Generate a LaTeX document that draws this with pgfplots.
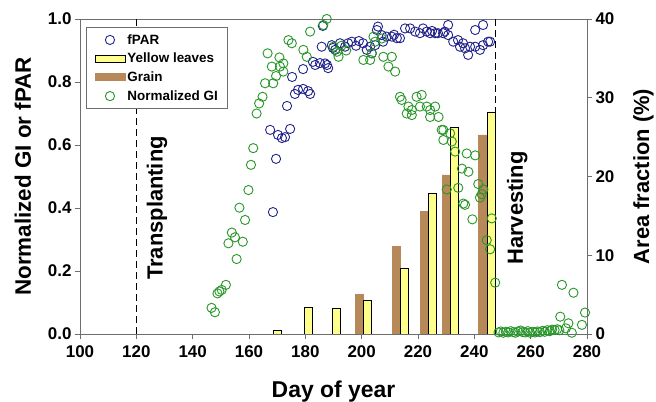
\documentclass[border=0pt]{standalone}
\usepackage{pgfplots}
\pgfplotsset{compat=1.18}
\usepackage{fontspec}
\setmainfont{Liberation Sans}
\definecolor{fparblue}{RGB}{35,35,140}
\definecolor{gigreen}{RGB}{40,150,40}
\definecolor{yellowbar}{RGB}{255,255,140}
\definecolor{grainbrown}{RGB}{184,137,88}
\definecolor{axisgray}{RGB}{110,110,110}
\pgfplotsset{
  every tick label/.append style={font=\fontsize{17}{17}\selectfont\bfseries, text=black},
  /pgf/number format/assume math mode=true,
}
\begin{document}
\begin{tikzpicture}
% ---------- right axis: bars ----------
\begin{axis}[
  scale only axis, width=507bp, height=315bp,
  xmin=100, xmax=280, ymin=0, ymax=40,
  axis y line*=right, axis x line=none,
  ytick={0,10,20,30,40},
  tick align=outside, major tick length=5bp,
  axis line style={axisgray, line width=0.9bp},
  tick style={axisgray, line width=0.9bp},
  ylabel={Area fraction (\%)},
  ylabel style={font=\fontsize{22}{22}\selectfont\bfseries, yshift=-12bp},
]
\addplot[ybar, bar width=2.85, bar shift=0pt, fill=grainbrown, draw=grainbrown, line width=0.5bp]
  coordinates {(199.3,5.0) (212.2,11.1) (222.2,15.6) (230.0,20.2) (242.9,25.3)};
\addplot[ybar, bar width=2.85, bar shift=0pt, fill=yellowbar, draw=black, line width=0.9bp]
  coordinates {(170.0,0.4) (181.1,3.35) (191.1,3.2) (201.9,4.2) (215.1,8.3) (225.0,17.9) (233.0,26.2) (246.0,28.1)};
\end{axis}
% ---------- left axis: fPAR and GI ----------
\begin{axis}[
  scale only axis, width=507bp, height=315bp,
  xmin=100, xmax=280, ymin=0, ymax=1,
  xtick={100,120,...,280}, ytick={0,0.2,0.4,0.6,0.8,1.0},
  xtick pos=bottom, ytick pos=left,
  tick align=outside, major tick length=5bp,
  axis line style={axisgray, line width=0.9bp},
  tick style={axisgray, line width=0.9bp},
  yticklabel style={/pgf/number format/fixed, /pgf/number format/fixed zerofill, /pgf/number format/precision=1},
  xticklabel style={yshift=-3bp, /pgf/number format/1000 sep={}},
  xlabel={Day of year},
  ylabel={Normalized GI or fPAR},
  xlabel style={font=\fontsize{23}{23}\selectfont\bfseries, yshift=-17bp},
  ylabel style={font=\fontsize{22.5}{22.5}\selectfont\bfseries, yshift=10bp},
  legend style={at={(0.012,0.975)}, anchor=north west, draw=axisgray, line width=0.9bp,
    font=\fontsize{13.5}{13.5}\selectfont\bfseries, row sep=3.5bp, inner xsep=8bp, inner ysep=5bp},
  legend cell align=left,
]
\coordinate (sw) at (rel axis cs:0,0);
\coordinate (ne) at (rel axis cs:1,1);
\addplot[black, line width=1.3bp, dash pattern=on 7bp off 4bp, forget plot] coordinates {(120,0) (120,1)};
\addplot[black, line width=1.3bp, dash pattern=on 7bp off 4bp, forget plot] coordinates {(247.5,0) (247.5,1)};

\addplot[only marks, mark=o, mark size=4.6bp, color=fparblue, line width=0.9bp,
  legend image code/.code={\draw[fparblue, line width=0.9bp] (15bp,0bp) circle (4.6bp);}]
  coordinates {
(168.5,0.387) (169.6,0.556) (167.5,0.648) (170.3,0.632) (171.7,0.622) (172.8,0.625)
(174.6,0.651) (173.5,0.724) (176.3,0.762) (177.4,0.775) (179.2,0.778) (181.0,0.771)
(181.7,0.762) (175.3,0.816) (179.2,0.841) (182.7,0.864) (183.5,0.854) (185.2,0.860)
(187.7,0.854) (188.1,0.844) (185.8,0.912) (186.2,0.978) (189.8,0.908) (187.0,0.859)
(189.4,0.917) (190.6,0.902) (192.3,0.923) (194.1,0.912) (195.2,0.923) (196.5,0.928)
(198.0,0.915) (199.0,0.930) (200.5,0.923) (201.8,0.902) (203.0,0.912) (203.6,0.891)
(204.8,0.917) (205.4,0.965) (205.8,0.976) (207.1,0.949) (207.6,0.928) (208.9,0.944)
(210.7,0.944) (211.5,0.950) (212.5,0.939) (213.6,0.939) (215.4,0.970) (217.2,0.970)
(219.0,0.960) (220.7,0.955) (221.8,0.970) (223.1,0.960) (224.3,0.955) (225.0,0.962)
(226.1,0.955) (227.1,0.955) (228.9,0.955) (229.5,0.960) (230.7,0.949) (230.7,0.981)
(232.5,0.928) (234.2,0.933) (234.9,0.912) (236.0,0.923) (236.7,0.907) (237.8,0.886)
(238.5,0.912) (240.3,0.912) (242.0,0.902) (243.1,0.917) (244.9,0.928) (245.6,0.928)
(240.3,0.965) (243.1,0.981)
  };
\addlegendentry{fPAR}
\addlegendimage{legend image code/.code={\draw[fill=yellowbar, draw=black, line width=0.9bp] (0bp,-3.5bp) rectangle (30bp,3.5bp);}}
\addlegendentry{Yellow leaves}
\addlegendimage{legend image code/.code={\fill[grainbrown] (0bp,-3.5bp) rectangle (30bp,3.5bp);}}
\addlegendentry{Grain}

\addplot[only marks, mark=o, mark size=4.6bp, color=gigreen, line width=0.9bp,
  legend image code/.code={\draw[gigreen, line width=0.9bp] (15bp,0bp) circle (4.6bp);}]
  coordinates {
(146.7,0.083) (147.9,0.069) (148.8,0.129) (150.3,0.140) (151.8,0.156) (149.5,0.135)
(155.6,0.238) (152.7,0.288) (153.9,0.322) (155.0,0.307) (157.8,0.293) (158.6,0.362)
(156.6,0.401) (159.8,0.457) (160.7,0.537) (161.5,0.590) (162.7,0.700) (163.6,0.732)
(164.8,0.753) (165.7,0.796) (168.6,0.796) (169.6,0.819) (168.1,0.849) (172.2,0.833)
(171.0,0.849) (166.6,0.891) (170.8,0.878) (172.2,0.859) (174.0,0.933) (175.2,0.923)
(179.3,0.902) (180.5,0.880) (181.7,0.960) (187.6,1.000) (186.4,0.981) (190.0,0.912)
(191.2,0.896) (191.8,0.880) (192.8,0.915) (194.5,0.900) (204.2,0.944) (204.8,0.928)
(200.6,0.870) (203.0,0.870) (203.6,0.891) (207.1,0.938) (207.7,0.880) (210.7,0.880)
(209.5,0.849) (211.9,0.833) (213.6,0.753) (214.2,0.743) (216.6,0.722) (219.5,0.753)
(221.3,0.759) (217.8,0.711) (220.7,0.722) (223.1,0.722) (224.3,0.711) (226.1,0.722)
(216.0,0.700) (217.8,0.695) (224.3,0.689) (227.3,0.689) (229.0,0.648) (228.4,0.648)
(229.0,0.616) (231.4,0.637) (232.0,0.611) (233.2,0.579) (235.6,0.525) (237.9,0.515)
(237.3,0.573) (240.3,0.567) (230.2,0.459) (234.3,0.464) (241.4,0.476) (243.2,0.459)
(242.0,0.433) (236.1,0.414) (236.7,0.410) (239.3,0.364) (242.6,0.444) (246.2,0.367)
(244.4,0.298) (245.6,0.269) (247.4,0.163)
(248.6,0.005) (249.4,0.008) (250.3,0.004) (251.2,0.007) (252.0,0.005) (252.9,0.009)
(253.8,0.006) (254.6,0.004) (255.5,0.008) (256.4,0.011) (257.2,0.006) (258.1,0.005)
(259.0,0.009) (259.8,0.004) (260.7,0.007) (261.6,0.005) (262.4,0.008) (263.3,0.006)
(264.2,0.010) (265.0,0.007) (265.9,0.012) (266.8,0.009) (267.6,0.014) (268.5,0.013)
(269.4,0.015) (270.2,0.012)
(271.1,0.156) (275.2,0.131) (270.5,0.055) (273.4,0.034) (278.2,0.029) (279.3,0.068)
(274.6,0.004) (272.5,0.018)
  };
\addlegendentry{Normalized GI}

\node[rotate=90, font=\fontsize{22}{22}\selectfont\bfseries] at (axis cs:127.3,0.4) {Transplanting};
\node[rotate=90, font=\fontsize{22}{22}\selectfont\bfseries] at (axis cs:255.2,0.4) {Harvesting};
\end{axis}
\pgfresetboundingbox
\path ([shift={(-80bp,-68bp)}]sw) rectangle ([shift={(69bp,19bp)}]ne);
\end{tikzpicture}
\end{document}
